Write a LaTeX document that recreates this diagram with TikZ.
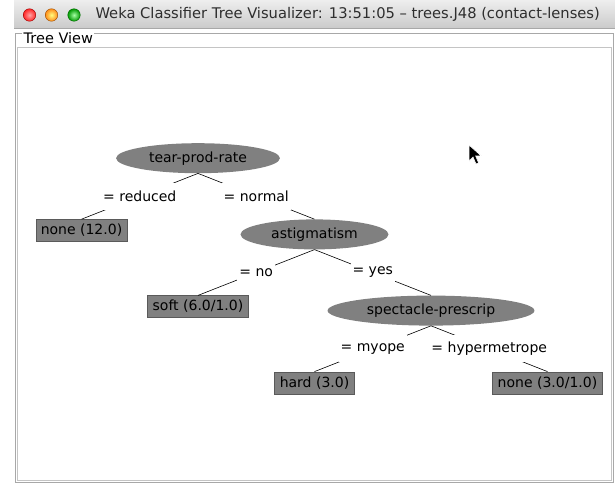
\documentclass[tikz,border=0pt]{standalone}
\usepackage{fontspec}
\setmainfont{DejaVu Sans}
\usepackage[x11names, rgb]{xcolor}
\usepackage{tikz}
\usetikzlibrary{trees,shapes}

\definecolor{nodegray}{HTML}{808080}
\definecolor{leafborder}{HTML}{5A5A5A}
\definecolor{titletop}{HTML}{EEEEEE}
\definecolor{titlebottom}{HTML}{CBCBCB}
\definecolor{titletext}{HTML}{2E2E2E}
\definecolor{frameline}{HTML}{A8A8A8}
\definecolor{panelline}{HTML}{C4C4C4}

\newcommand\treefont{\fontsize{14}{16}\selectfont}
\newcommand\wintitlefont{\fontsize{14.7}{16}\selectfont}

\begin{document}
\begin{tikzpicture}
[x=1pt, y=1pt, grow = down, level distance=61pt, sibling distance=233pt]
\tikzset{
	splitnode/.style = {ellipse, fill = nodegray, anchor = north, inner xsep = 9pt, inner ysep = 0pt, minimum height = 30pt, font = \treefont},
	leafnode/.style = {rectangle, draw = leafborder, fill = nodegray, anchor = north, inner xsep = 5pt, inner ysep = 0pt, minimum height = 22pt, font = \treefont},
	branch/.style = {fill = white, inner xsep = 2pt, inner ysep = 0pt, minimum height = 27pt, font = \treefont},
	lamp/.style = {circle, inner sep = 0pt, minimum size = 12.5pt, line width = 0.4pt},
	edge from parent/.style = {draw, line width = 0.6pt},
	parent anchor = south, child anchor = north
}

\useasboundingbox (0,0) rectangle (615,-484);
\fill[white] (0,0) rectangle (615,-484);

% window title bar
\shade[top color = titletop, bottom color = titlebottom] (14,0) rectangle (615,-28);
\draw[frameline] (14,-28) -- (615,-28);
\node (close) [lamp, draw = red!60!black, inner color = red!35, outer color = red!85] at (29.5,-15) {};
\node (mini) [lamp, draw = orange!60!black, inner color = yellow!50, outer color = orange!90] at (51.5,-15) {};
\node (zoom) [lamp, draw = green!40!black, inner color = green!35, outer color = green!60!black] at (74,-15) {};
\node (title) [font = \wintitlefont, text = titletext, anchor = west] at (92,-14.5) {Weka Classifier Tree Visualizer: 13:51:05 – trees.J48 (contact-lenses)};

% tree view frame
\draw[frameline] (15,-33) rectangle (613,-482);
\node (treeview) [font = \fontsize{14.5}{16}\selectfont, fill = white, inner sep = 1.5pt, anchor = west] at (22,-38.5) {Tree View};
\draw[panelline, fill = white] (17,-47) rectangle (611,-480);

% mouse pointer
\fill[black, draw = white, line width = 0.6pt] (469,-145) -- ++(0,-16) -- ++(4,4) -- ++(3,-7) -- ++(2.6,1.1) -- ++(-3,7) -- ++(5.6,0) -- cycle;

\node (tear) [splitnode] at (198,-143) {tear-prod-rate}
	child{
		node (none1) [leafnode] {none (12.0)}
		edge from parent node [branch] {= reduced}
	}
	child{
		node (astig) [splitnode] {astigmatism}
		child{
			node (soft) [leafnode] {soft (6.0/1.0)}
			edge from parent node [branch] {= no}
		}
		child{
			node (spect) [splitnode] {spectacle-prescrip}
			child{
				node (hard) [leafnode] {hard (3.0)}
				edge from parent node [branch] {= myope}
			}
			child{
				node (none2) [leafnode] {none (3.0/1.0)}
				edge from parent node [branch] {= hypermetrope}
			}
			edge from parent node [branch] {= yes}
		}
		edge from parent node [branch] {= normal}
	}
;
\end{tikzpicture}
\end{document}
